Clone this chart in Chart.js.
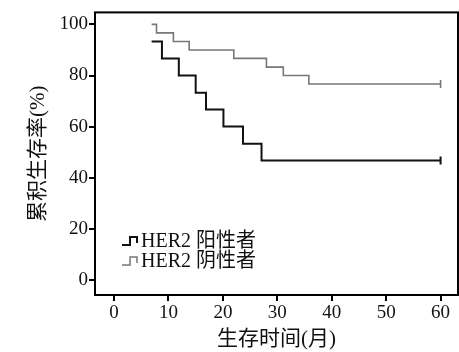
<!DOCTYPE html>
<html>
<head>
<meta charset="utf-8">
<script src="https://cdn.jsdelivr.net/npm/chart.js@4"></script>
<style>
  html, body { margin: 0; padding: 0; background: #fff; }
  #wrap { width: 459px; height: 352px; }
</style>
</head>
<body>
<div id="wrap"><canvas id="kmChart" width="459" height="352"></canvas></div>
<script>
// Kaplan-Meier curves (time in months, survival in %)
const posTimes = [6.9, 8.8, 11.9, 15.0, 16.9, 20.1, 23.7, 27.1, 60];
const posSurvival = [93.3, 86.7, 80.0, 73.3, 66.7, 60.0, 53.3, 46.7, 46.7];
const negTimes = [6.9, 7.8, 10.9, 13.8, 22.0, 28.0, 31.1, 35.8, 60];
const negSurvival = [100, 96.7, 93.3, 90.0, 86.7, 83.3, 80.0, 76.7, 76.7];
const seriesNames = ['HER2 阳性者', 'HER2 阴性者'];
const seriesColors = ['#111111', '#777777'];
const xTicks = [0, 10, 20, 30, 40, 50, 60];
const yTicks = [0, 20, 40, 60, 80, 100];

const FONT = "'Liberation Serif', 'Noto Sans CJK SC', serif";

function toPoints(xs, ys) {
    return xs.map((x, i) => ({ x: x, y: ys[i] }));
}

// censor mark only on the last point
function censorRadius(n) {
    return Array.from({ length: n }, (_, i) => (i === n - 1 ? 4 : 0));
}

// frame around plot area plus the small legend in the lower left
const framePlugin = {
    id: 'frame',
    afterDraw(chart) {
        const { ctx, chartArea } = chart;
        ctx.save();
        ctx.strokeStyle = '#000';
        ctx.lineWidth = 2;
        ctx.strokeRect(chartArea.left, chartArea.top, chartArea.right - chartArea.left, chartArea.bottom - chartArea.top);

        // legend
        const rows = [241, 261];
        ctx.font = '20px ' + FONT;
        ctx.textBaseline = 'middle';
        rows.forEach((y, i) => {
            ctx.strokeStyle = seriesColors[i];
            ctx.lineWidth = i === 0 ? 2 : 1.5;
            ctx.beginPath();
            ctx.moveTo(122, y + 4);
            ctx.lineTo(130, y + 4);
            ctx.lineTo(130, y - 4);
            ctx.lineTo(137, y - 4);
            ctx.lineTo(137, y + 2);
            ctx.stroke();
            ctx.fillStyle = '#111';
            ctx.fillText(seriesNames[i], 141, y + 1);
        });
        ctx.restore();
    }
};

const ctx = document.getElementById('kmChart').getContext('2d');
new Chart(ctx, {
    type: 'line',
    data: {
        datasets: [{
            label: seriesNames[0],
            data: toPoints(posTimes, posSurvival),
            borderColor: seriesColors[0],
            borderWidth: 2,
            stepped: 'before',
            pointStyle: 'line',
            rotation: 90,
            pointRadius: censorRadius(posTimes.length),
            pointBorderColor: seriesColors[0],
            pointBorderWidth: 2
        }, {
            label: seriesNames[1],
            data: toPoints(negTimes, negSurvival),
            borderColor: seriesColors[1],
            borderWidth: 1.6,
            stepped: 'before',
            pointStyle: 'line',
            rotation: 90,
            pointRadius: censorRadius(negTimes.length),
            pointBorderColor: seriesColors[1],
            pointBorderWidth: 1.6
        }]
    },
    options: {
        responsive: false,
        animation: false,
        layout: { autoPadding: false, padding: { top: 12, right: 1, left: 0, bottom: 0 } },
        plugins: {
            legend: { display: false },
            tooltip: { enabled: false }
        },
        scales: {
            x: {
                type: 'linear',
                min: -3.5,
                max: 63.2,
                afterBuildTicks: (scale) => { scale.ticks = xTicks.map(v => ({ value: v })); },
                afterFit: (scale) => { scale.height = 57; },
                grid: { drawOnChartArea: false, drawTicks: true, tickLength: 6, color: '#000', lineWidth: 2 },
                border: { display: false },
                ticks: { color: '#111', font: { family: FONT, size: 19 }, padding: 1, maxRotation: 0 },
                title: { display: true, text: '生存时间(月)', color: '#111', font: { family: FONT, size: 21 }, padding: { top: 3, bottom: 0 } }
            },
            y: {
                min: -5.9,
                max: 104.7,
                afterBuildTicks: (scale) => { scale.ticks = yTicks.map(v => ({ value: v })); },
                afterFit: (scale) => { scale.width = 95; },
                grid: { drawOnChartArea: false, drawTicks: true, tickLength: 6, color: '#000', lineWidth: 2 },
                border: { display: false },
                ticks: { color: '#111', font: { family: FONT, size: 19 }, padding: 1 },
                title: { display: true, text: '累积生存率(%)', color: '#111', font: { family: FONT, size: 21 }, padding: { top: 26, bottom: 0 } }
            }
        }
    },
    plugins: [framePlugin]
});
</script>
</body>
</html>
